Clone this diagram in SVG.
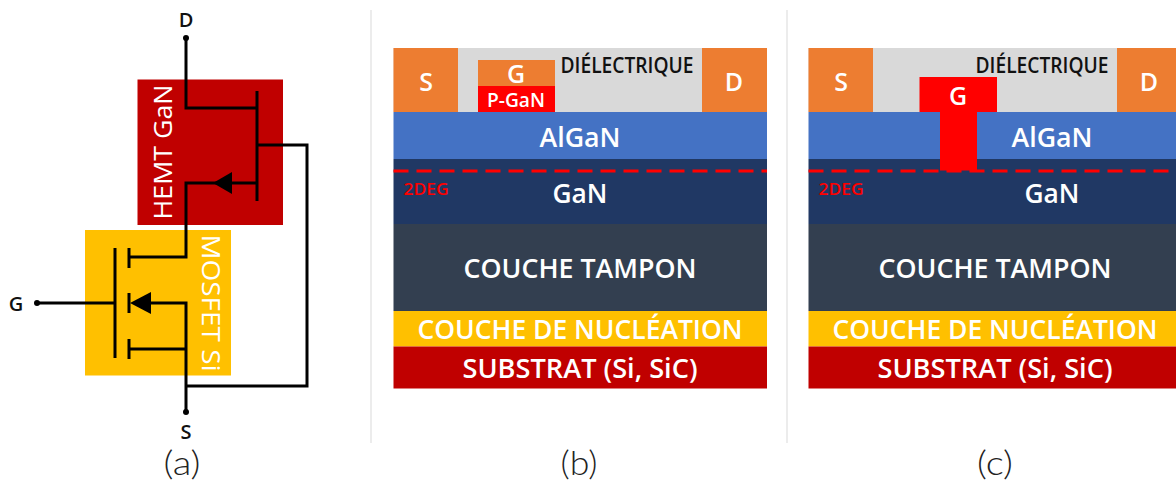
<svg xmlns="http://www.w3.org/2000/svg" width="1176" height="485" viewBox="0 0 1176 485">
<style>
text{font-family:"Open Sans","Noto Sans","Liberation Sans",sans-serif;font-weight:600;text-anchor:middle}
.w{fill:#fff}.k{fill:#111}
.l{font-size:25px}.m{font-size:27px}
.r{fill:#f00;font-size:17px}
.d{font-size:20px;fill:#111}
.c{font-family:"Lato","Open Sans",sans-serif;font-weight:300;font-size:33px;fill:#222}
.w2{fill:none;stroke:#000;stroke-width:3;stroke-linejoin:miter}
.dash{stroke:#f00;stroke-width:3;stroke-dasharray:15 8;fill:none}
.sep{stroke:#e6e6e6;stroke-width:1.5}
</style>
<g id="separators"><line class="sep" x1="371" y1="10" x2="371" y2="443"/><line class="sep" x1="787" y1="10" x2="787" y2="443"/></g>
<g id="hemt"><rect x="137.5" y="79.5" width="145.5" height="145.5" fill="#c00000"/>
<text class="w" transform="translate(172 152) rotate(-90)" style="font-size:26px;font-weight:500" textLength="135" lengthAdjust="spacingAndGlyphs">HEMT GaN</text></g>
<g id="mosfet"><rect x="85" y="230" width="146" height="145.5" fill="#ffc000"/>
<text class="w" transform="translate(202 303) rotate(90)" style="font-size:26px;font-weight:500" textLength="137" lengthAdjust="spacingAndGlyphs">MOSFET Si</text></g>
<g id="connectors">
<path class="w2" d="M186 38V108H257M257 91V201M257 145H307V386H186M257 183H186V257H129M129 248V268M115 248V358M37 303H115M129 293V313M129 339V359M150 303H186V412M129 349H186"/>
<path d="M213 183L232 172V194Z"/><path d="M130 303L151 292V314Z"/>
<circle cx="186" cy="38" r="3"/><circle cx="37" cy="303" r="3"/><circle cx="186" cy="412" r="3"/>
</g>
<g id="terminals"><text class="d" x="186" y="27">D</text><text class="d" x="16" y="311">G</text><text class="d" x="186" y="439">S</text></g>
<g id="stack-b">
<rect x="393.5" y="48" width="373.5" height="64" fill="#d9d9d9"/>
<rect x="393.5" y="48" width="64.5" height="64" fill="#ed7d31"/><rect x="702" y="48" width="65" height="64" fill="#ed7d31"/>
<rect x="478" y="60" width="77" height="26" fill="#ed7d31"/><rect x="478" y="86" width="77" height="26" fill="#f00"/>
<rect x="393.5" y="112" width="373.5" height="47" fill="#4472c4"/>
<rect x="393.5" y="159" width="373.5" height="65" fill="#203864"/>
<rect x="393.5" y="224" width="373.5" height="87" fill="#333f50"/>
<rect x="393.5" y="311" width="373.5" height="35.5" fill="#ffc000"/>
<rect x="393.5" y="346.5" width="373.5" height="42" fill="#c00000"/>
<line class="dash" x1="393.5" y1="171" x2="767" y2="171"/>
<text class="w l" x="426" y="91">S</text><text class="w l" x="734" y="91">D</text><text class="w l" x="516" y="83">G</text>
<text class="w" x="516" y="107" style="font-size:19px" textLength="58" lengthAdjust="spacingAndGlyphs">P-GaN</text>
<text class="k" x="627" y="73" style="font-size:21px" textLength="133" lengthAdjust="spacingAndGlyphs">DIÉLECTRIQUE</text>
<text class="w m" x="580" y="147" textLength="81" lengthAdjust="spacingAndGlyphs">AlGaN</text>
<text class="w m" x="580" y="203" textLength="55" lengthAdjust="spacingAndGlyphs">GaN</text>
<text class="r" x="426" y="195" textLength="45" lengthAdjust="spacingAndGlyphs">2DEG</text>
<text class="w m" x="580" y="278" textLength="233" lengthAdjust="spacingAndGlyphs">COUCHE TAMPON</text>
<text class="w m" x="580" y="339" textLength="325" lengthAdjust="spacingAndGlyphs">COUCHE DE NUCLÉATION</text>
<text class="w m" x="580" y="378" textLength="235" lengthAdjust="spacingAndGlyphs">SUBSTRAT (Si, SiC)</text>
</g>
<g id="stack-c">
<rect x="808.5" y="48" width="373.5" height="64" fill="#d9d9d9"/>
<rect x="808.5" y="48" width="64.5" height="64" fill="#ed7d31"/><rect x="1117" y="48" width="65" height="64" fill="#ed7d31"/>
<rect x="808.5" y="112" width="373.5" height="47" fill="#4472c4"/>
<rect x="808.5" y="159" width="373.5" height="65" fill="#203864"/>
<rect x="808.5" y="224" width="373.5" height="87" fill="#333f50"/>
<rect x="808.5" y="311" width="373.5" height="35.5" fill="#ffc000"/>
<rect x="808.5" y="346.5" width="373.5" height="42" fill="#c00000"/>
<line class="dash" x1="808.5" y1="171" x2="1182" y2="171"/>
<path d="M919.5 77H997V112H977V170.500H940V112H919.5Z" fill="#f00"/>
<text class="w l" x="841" y="91">S</text><text class="w l" x="1149" y="91">D</text><text class="w l" x="958" y="105">G</text>
<text class="k" x="1042" y="73" style="font-size:21px" textLength="133" lengthAdjust="spacingAndGlyphs">DIÉLECTRIQUE</text>
<text class="w m" x="1052" y="147" textLength="81" lengthAdjust="spacingAndGlyphs">AlGaN</text>
<text class="w m" x="1052" y="203" textLength="55" lengthAdjust="spacingAndGlyphs">GaN</text>
<text class="r" x="841" y="195" textLength="45" lengthAdjust="spacingAndGlyphs">2DEG</text>
<text class="w m" x="995" y="278" textLength="233" lengthAdjust="spacingAndGlyphs">COUCHE TAMPON</text>
<text class="w m" x="995" y="339" textLength="325" lengthAdjust="spacingAndGlyphs">COUCHE DE NUCLÉATION</text>
<text class="w m" x="995" y="378" textLength="235" lengthAdjust="spacingAndGlyphs">SUBSTRAT (Si, SiC)</text>
</g>
<g id="captions"><text class="c" x="182" y="475" textLength="37" lengthAdjust="spacingAndGlyphs">(a)</text><text class="c" x="579" y="475" textLength="37" lengthAdjust="spacingAndGlyphs">(b)</text><text class="c" x="995" y="475" textLength="36" lengthAdjust="spacingAndGlyphs">(c)</text></g>
</svg>
